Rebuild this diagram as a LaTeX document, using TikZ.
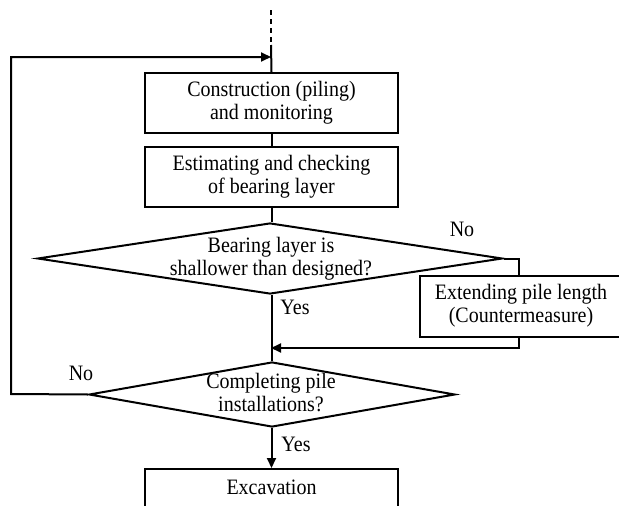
\documentclass[tikz,border=0pt]{standalone}
\usepackage{fontspec}
\usepackage{graphicx}
\setmainfont{Liberation Serif}
\usetikzlibrary{shapes.geometric,arrows.meta}
\newcommand{\stretchtxt}[1]{\scalebox{1}[1.1]{\begin{tabular}{@{}c@{}}#1\end{tabular}}}
\begin{document}
\begin{tikzpicture}[x=1pt,y=-1pt,
  line width=2pt,
  txtfont/.style={font=\fontsize{20}{21}\selectfont},
  box/.style={draw, line width=2pt, minimum width=253pt, minimum height=60pt, inner sep=0pt, align=center, txtfont},
  dia/.style={draw, diamond, inner sep=0pt, line width=2pt},
  txt/.style={align=center, inner sep=0pt, txtfont},
  arr/.style={-{Triangle[length=10pt,width=9pt]}}
]
\clip (0,0) rectangle (619,506);
\fill[white] (0,0) rectangle (619,506);

\coordinate (top) at (271,10);
\coordinate (dashend) at (271,45);
\coordinate (loop) at (271,57);
\coordinate (lefttop) at (11,57);
\coordinate (leftbot) at (11,394);

\node[box] (b1) at (271.5,103) {\stretchtxt{Construction (piling)\\and monitoring}};
\node[box] (b2) at (271.5,177) {\stretchtxt{Estimating and checking\\of bearing layer}};

\node[dia, minimum width=465pt, minimum height=71pt] (d1) at (270,258.5) {};
\node[txt] (d1t) at (271,259) {\stretchtxt{Bearing layer is\\shallower than designed?}};

\node[box, minimum width=202pt, minimum height=61pt] (b3) at (521,306.5) {\stretchtxt{Extending pile length\\(Countermeasure)}};
\coordinate (d1r) at (519,258.5);
\coordinate (b3t) at (519,276);
\coordinate (b3b) at (519,337);
\coordinate (b3r) at (519,348);
\coordinate (join) at (271,348);

\node[dia, minimum width=366pt, minimum height=65pt] (d2) at (272,394.5) {};
\node[txt] (d2t) at (271,395) {\stretchtxt{Completing pile\\installations?}};

\node[box, minimum height=42pt] (b4) at (271.5,490) {\stretchtxt{Excavation}};

% labels
\node[txt] (no1) at (462,232) {\stretchtxt{No}};
\node[txt] (yes1) at (295,310) {\stretchtxt{Yes}};
\node[txt] (no2) at (81,376) {\stretchtxt{No}};
\node[txt] (yes2) at (296,447) {\stretchtxt{Yes}};

% connectors
\draw[dash pattern=on 5pt off 4pt] (top) -- (dashend);
\draw (dashend) -- (b1.north);
\draw (b1.south) -- (b2.north);
\draw (b2.south) -- (d1.north -| b2.south);
\draw (d1.south -| b2.south) -- (d2.north -| b2.south);
\draw (d1.east) -- (d1r) -- (b3t);
\draw[arr] (b3b) -- (b3r) -- (join);
\draw[arr] (d2.west) -- (leftbot) -- (lefttop) -- (loop);
\draw[arr] (d2.south -| b4.north) -- (b4.north);
\end{tikzpicture}
\end{document}
